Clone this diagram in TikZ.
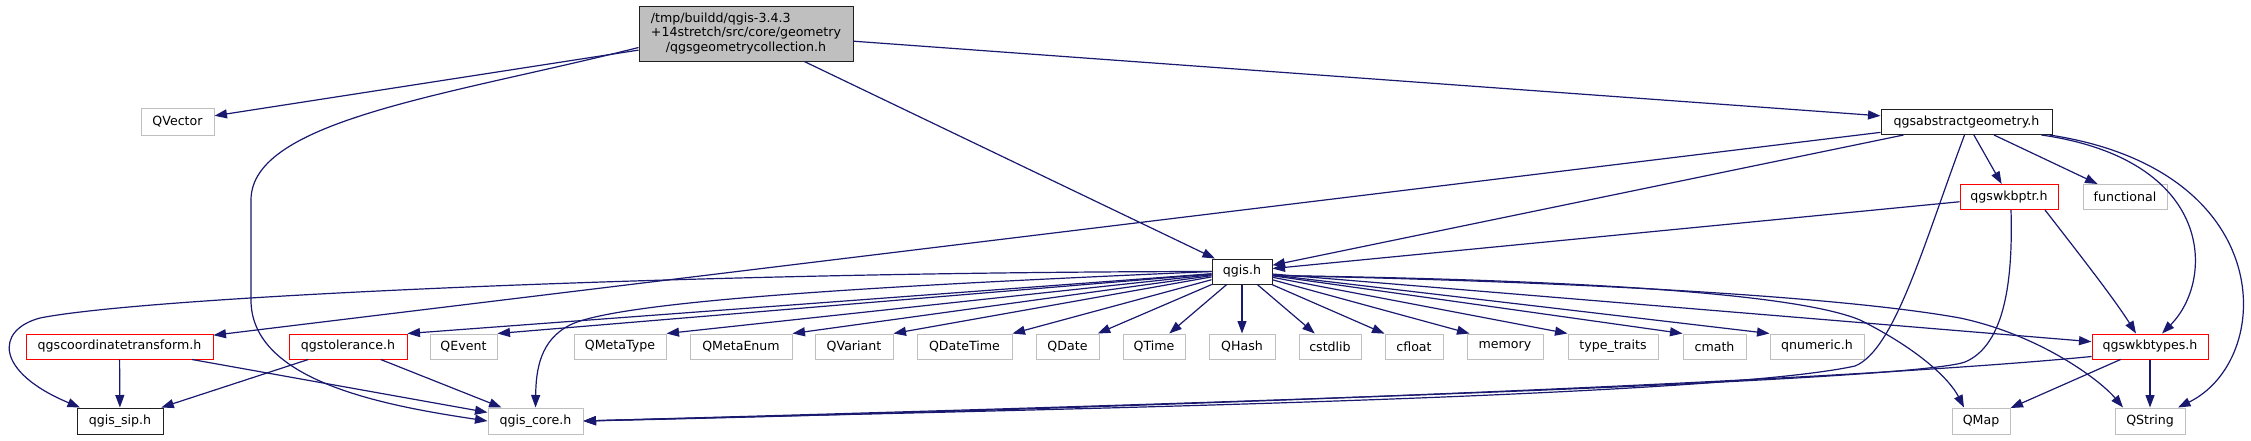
\documentclass[tikz,border=0pt]{standalone}
\usepackage{fontspec}
\setmainfont{DejaVu Sans}
\usetikzlibrary{arrows.meta}
\definecolor{edgeblue}{HTML}{191970}
\definecolor{gborder}{HTML}{BFBFBF}
\definecolor{rborder}{HTML}{FF0000}
\definecolor{mainfill}{HTML}{BFBFBF}
\definecolor{bborder}{HTML}{202020}
\begin{document}
\begin{tikzpicture}[x=1pt,y=-1pt,
 nodebox/.style={draw=bborder, fill=white, line width=1pt, inner sep=0pt, minimum height=25pt, font=\fontsize{12.6}{14.3}\selectfont, text=black},
 redbox/.style={nodebox, draw=rborder},
 graybox/.style={nodebox, draw=gborder},
 rowc/.style={minimum height=26pt},
 dep/.style={draw=edgeblue, line width=1.2pt, -{Triangle[length=12.5pt,width=9pt]}},
]
\useasboundingbox[fill=white] (0,0) rectangle (2251,440);

% nodes
\node[nodebox, fill=mainfill, minimum width=214pt, minimum height=55pt, align=center] (main) at (746,33.5)
 {\rlap{/tmp/buildd/qgis-3.4.3}\hphantom{+14stretch/src/core/geometry}\\+14stretch/src/core/geometry\\/qgsgeometrycollection.h};
\node[graybox, minimum width=73pt, minimum height=27pt] (QVector) at (177.5,121.5) {QVector};
\node[nodebox, minimum width=171pt] (abs) at (1966.5,122) {qgsabstractgeometry.h};
\node[redbox, minimum width=98pt] (wkbptr) at (2009,197) {qgswkbptr.h};
\node[graybox, minimum width=84pt] (functional) at (2125,197) {functional};
\node[nodebox, minimum width=60pt] (qgis) at (1242,271.5) {qgis.h};

\node[redbox, minimum width=187pt] (coord) at (119.5,346.5) {qgscoordinatetransform.h};
\node[redbox, minimum width=118pt] (tol) at (348,346.5) {qgstolerance.h};
\node[graybox, minimum width=67pt] (QEvent) at (463.5,346.5) {QEvent};
\node[graybox, minimum width=92pt] (QMetaType) at (620,346.5) {QMetaType};
\node[graybox, minimum width=102pt] (QMetaEnum) at (741,346.5) {QMetaEnum};
\node[graybox, minimum width=78pt] (QVariant) at (854,346.5) {QVariant};
\node[graybox, minimum width=95pt] (QDateTime) at (964.5,346.5) {QDateTime};
\node[graybox, minimum width=63pt] (QDate) at (1067.5,346.5) {QDate};
\node[graybox, minimum width=62pt] (QTime) at (1154,346.5) {QTime};
\node[graybox, minimum width=66pt] (QHash) at (1242,346.5) {QHash};
\node[graybox, minimum width=62pt] (cstdlib) at (1330,346.5) {cstdlib};
\node[graybox, minimum width=58pt] (cfloat) at (1414,346.5) {cfloat};
\node[graybox, minimum width=76pt] (memory) at (1505,346.5) {memory};
\node[graybox, minimum width=90pt] (typetraits) at (1613,346.5) {type\_traits};
\node[graybox, minimum width=63pt] (cmath) at (1714.5,346.5) {cmath};
\node[graybox, minimum width=94pt] (qnumeric) at (1817,346.5) {qnumeric.h};
\node[redbox, minimum width=116pt] (wkbtypes) at (2150,346.5) {qgswkbtypes.h};

\node[nodebox, rowc, minimum width=86pt] (sip) at (120,421) {qgis\_sip.h};
\node[graybox, rowc, minimum width=95pt] (core) at (535.5,421) {qgis\_core.h};
\node[graybox, rowc, minimum width=58pt] (QMap) at (1981,421) {QMap};
\node[graybox, rowc, minimum width=70pt] (QString) at (2150,421) {QString};

% edges from main
\draw[dep] (main) -- (QVector);
\draw[dep] (main) -- (qgis);
\draw[dep] (main) -- (abs);
\draw[dep] ([yshift=-14pt]main.west) .. controls (450,95) and (251,120) .. (251,200) -- (251,300) .. controls (251,380) and (380,405) .. (core.west);

% edges from qgsabstractgeometry.h
\draw[dep] (abs) -- (qgis);
\draw[dep] (abs) -- (coord);
\draw[dep] (abs) -- (wkbptr);
\draw[dep] (abs) -- (functional);
\draw[dep] ([xshift=75pt]abs.south) .. controls (2215,160) and (2215,280) .. ([xshift=12pt]wkbtypes.north);
\draw[dep] ([xshift=83pt]abs.south) .. controls (2280,170) and (2275,360) .. ([xshift=28pt]QString.north);
\draw[dep] ([xshift=-2pt]abs.south) .. controls (1925,240) and (1895,350) .. (1855,366) .. controls (1700,400) and (900,412) .. (core.east);

% edges from qgswkbptr.h
\draw[dep] (wkbptr) -- (qgis);
\draw[dep] ([xshift=36pt]wkbptr.south) .. controls (2080,255) and (2115,300) .. ([xshift=-14pt]wkbtypes.north);
\draw[dep] ([xshift=2pt]wkbptr.south) .. controls (2013,280) and (2005,345) .. (1965,362) .. controls (1900,385) and (900,412) .. (core.east);

% edges from qgswkbtypes.h
\draw[dep] ([yshift=3pt]wkbtypes.south west) .. controls (1800,385) and (1000,412) .. (core.east);
\draw[dep] (wkbtypes) -- (QMap);
\draw[dep] (wkbtypes) -- (QString);

% edges from qgscoordinatetransform.h and qgstolerance.h
\draw[dep] (coord) -- (sip);
\draw[dep] (coord) -- (core);
\draw[dep] (tol) -- (sip);
\draw[dep] (tol) -- (core);

% edges from qgis.h
\draw[dep] (qgis.west) .. controls (700,272) and (150,296) .. (40,318) .. controls (-5,330) and (-5,372) .. ([xshift=-40pt]sip.north);
\draw[dep] (qgis.west) .. controls (900,285) and (620,300) .. (570,325) .. controls (540,340) and (536,370) .. (core.north);
\draw[dep] (qgis) -- (tol.north east);
\draw[dep] (qgis) -- (QEvent.north east);
\draw[dep] (qgis) -- (QMetaType.north east);
\draw[dep] (qgis) -- (QMetaEnum.north east);
\draw[dep] (qgis) -- (QVariant.north east);
\draw[dep] (qgis) -- (QDateTime);
\draw[dep] (qgis) -- (QDate);
\draw[dep] (qgis) -- (QTime);
\draw[dep] (qgis) -- (QHash);
\draw[dep] (qgis) -- (cstdlib);
\draw[dep] (qgis) -- (cfloat);
\draw[dep] (qgis) -- ([xshift=3pt]memory.north west);
\draw[dep] (qgis) -- (typetraits.north west);
\draw[dep] (qgis) -- (cmath.north west);
\draw[dep] (qgis) -- (qnumeric.north west);
\draw[dep] (qgis) -- (wkbtypes);
\draw[dep] ([yshift=-4pt]qgis.east) .. controls (1600,280) and (1800,295) .. (1860,320) .. controls (1920,350) and (1950,380) .. ([xshift=-17pt]QMap.north);
\draw[dep] ([yshift=-4pt]qgis.east) .. controls (1600,282) and (1850,298) .. (1960,318) .. controls (2040,335) and (2100,380) .. ([xshift=-27pt]QString.north);
\end{tikzpicture}
\end{document}
